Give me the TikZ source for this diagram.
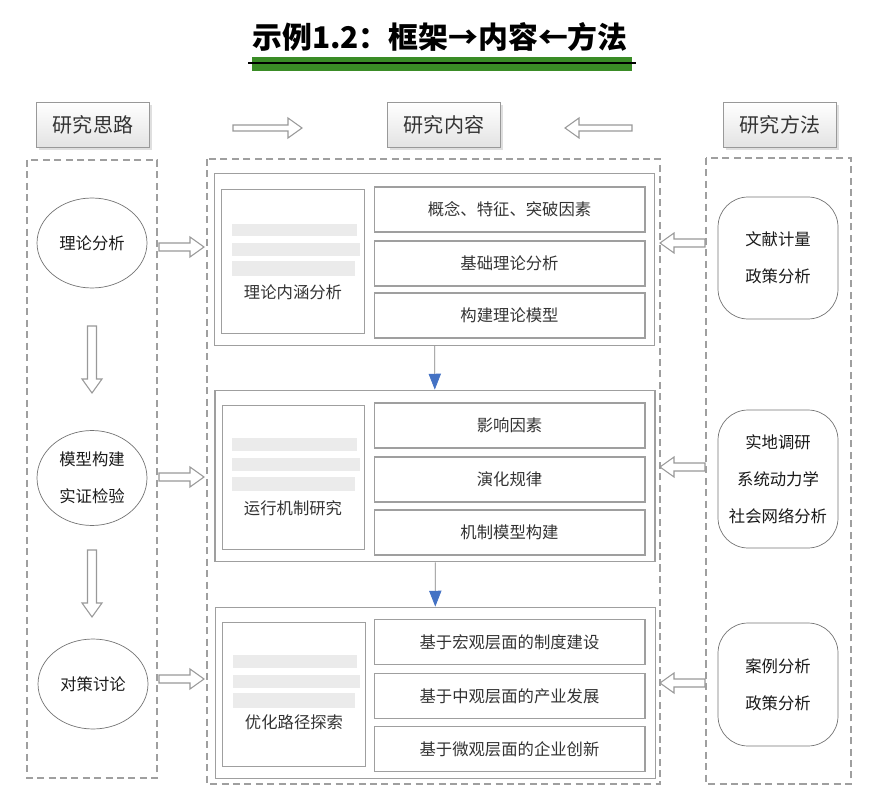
\documentclass[tikz,border=0pt]{standalone}
\usepackage{fontspec}
\newfontfamily\cjk{Noto Sans CJK SC}
\usetikzlibrary{shapes.geometric,arrows.meta,shadows}

\definecolor{bargreen}{RGB}{58,140,38}
\definecolor{tipblue}{RGB}{68,114,196}

\tikzset{
  every node/.style={font=\cjk\fontsize{9.3}{21}\selectfont, text=black!80},
  headbox/.style={draw=gray!80, top color=white, bottom color=gray!22,
    minimum width=2.26cm, minimum height=0.9cm,
    drop shadow={opacity=0.25, shadow xshift=1.2pt, shadow yshift=-1.2pt},
    font=\cjk\fontsize{11.4}{14}\selectfont},
  colbox/.style={draw=gray!75, dash pattern=on 4pt off 2.5pt, line width=0.6pt},
  panel/.style={draw=gray!75, line width=0.8pt, minimum width=8.8cm, minimum height=3.43cm},
  leftbox/.style={draw=gray!75, line width=0.6pt, minimum width=2.85cm, minimum height=2.88cm},
  itembox/.style={draw=gray!75, line width=0.6pt, minimum width=5.42cm, minimum height=0.9cm},
  thinking/.style={ellipse, draw=gray!90!black, minimum width=2.2cm, minimum height=1.8cm, align=center, text=black!90},
  method/.style={draw=gray!90!black, rounded corners=0.6cm, minimum width=2.4cm, align=center, text=black!90},
  smudge/.style={fill=gray!16},
  flow/.style={draw=gray, -{Triangle[color=tipblue, width=7pt, length=9pt]}},
  pics/hollow/.style n args={2}{code={
    \draw[gray!80, fill=white, line width=0.6pt] (0,-#2) -- (#1-14,-#2) -- (#1-14,-10)
      -- (#1,0) -- (#1-14,10) -- (#1-14,#2) -- (0,#2) -- cycle;}}
}

\begin{document}
\begin{tikzpicture}[x=0.02cm,y=-0.02cm]
\useasboundingbox (0,0) rectangle (875,800);

% title
\fill[bargreen] (252,57) rectangle (632,71);
\draw[line width=0.8pt] (248,63) -- (636,63);
\node[font=\cjk\bfseries\fontsize{17}{20}\selectfont, text=black] (title) at (440,37) {示例1.2：框架→内容←方法};

% headers
\node[headbox] (silu) at (93,125) {研究思路};
\node[headbox] (neirong) at (444,125) {研究内容};
\node[headbox] (fangfa) at (780,125) {研究方法};
\pic at (233,128) {hollow={69}{3}};
\pic[rotate=180] at (632,128) {hollow={67}{3}};

% three columns
\draw[colbox] (27,160) rectangle (157,778);
\draw[colbox] (207,159) rectangle (660,784);
\draw[colbox] (706,158) rectangle (851,784);

% left column
\node[thinking] (t1) at (92,243) {理论分析};
\node[thinking, minimum height=1.9cm] (t2) at (92,478) {模型构建\\实证检验};
\node[thinking] (t3) at (93,684) {对策讨论};
\pic[rotate=-90] at (92,326) {hollow={67}{4.5}};
\pic[rotate=-90] at (92,550) {hollow={67}{4.5}};
\pic at (159,247) {hollow={45}{4}};
\pic at (159,477) {hollow={45}{4}};
\pic at (159,679) {hollow={45}{4}};

% panel 1
\node[panel] (p1) at (434.5,259.5) {};
\node[leftbox] (l1) at (293,261.5) {};
\fill[smudge] (232,224) rectangle (357,236);
\fill[smudge] (232,243) rectangle (360,256);
\fill[smudge] (232,261) rectangle (355,276);
\node (l1txt) at (293,292) {理论内涵分析};
\node[itembox] (a1) at (509.5,209.5) {概念、特征、突破因素};
\node[itembox] (a2) at (509.5,263.5) {基础理论分析};
\node[itembox] (a3) at (509.5,315.5) {构建理论模型};

% panel 2
\node[panel] (p2) at (435,476) {};
\node[leftbox] (l2) at (293.5,477.5) {};
\fill[smudge] (232,438) rectangle (357,451);
\fill[smudge] (232,458) rectangle (360,471);
\fill[smudge] (232,477) rectangle (355,491);
\node (l2txt) at (293,508) {运行机制研究};
\node[itembox] (b1) at (509.5,425.5) {影响因素};
\node[itembox] (b2) at (509.5,479.5) {演化规律};
\node[itembox] (b3) at (509.5,532.5) {机制模型构建};

% panel 3
\node[panel] (p3) at (435.5,693) {};
\node[leftbox] (l3) at (294,694.5) {};
\fill[smudge] (233,655) rectangle (357,668);
\fill[smudge] (233,675) rectangle (360,688);
\fill[smudge] (233,693) rectangle (355,708);
\node (l3txt) at (294,722) {优化路径探索};
\node[itembox] (c1) at (509.5,642) {基于宏观层面的制度建设};
\node[itembox] (c2) at (509.5,696) {基于中观层面的产业发展};
\node[itembox] (c3) at (509.5,749) {基于微观层面的企业创新};

\draw[flow] (p1) -- (p2);
\draw[flow] (p2) -- (p3);

% right column
\node[method, minimum height=2.44cm] (m1) at (778,258) {文献计量\\政策分析};
\node[method, minimum height=2.76cm] (m2) at (778,479) {实地调研\\系统动力学\\社会网络分析};
\node[method, minimum height=2.46cm] (m3) at (778,684.5) {案例分析\\政策分析};
\pic[rotate=180] at (705,243) {hollow={45}{4}};
\pic[rotate=180] at (705,467) {hollow={45}{4}};
\pic[rotate=180] at (705,683) {hollow={45}{4}};
\end{tikzpicture}
\end{document}
